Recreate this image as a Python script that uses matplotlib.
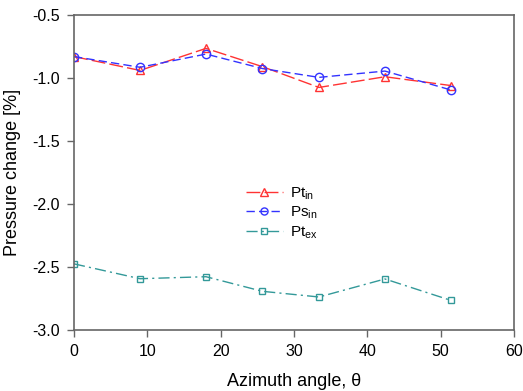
import matplotlib
matplotlib.use("Agg")
import matplotlib.pyplot as plt

plt.rcParams['font.family'] = ['Liberation Sans', 'DejaVu Sans']

# Azimuth angles (deg) and pressure change (%) for each probe
theta = [0, 9, 18, 25.7, 33.4, 42.4, 51.4]
pt_in = [-0.83, -0.94, -0.765, -0.91, -1.075, -0.99, -1.06]
ps_in = [-0.83, -0.915, -0.81, -0.925, -0.995, -0.945, -1.095]
pt_ex = [-2.475, -2.593, -2.577, -2.693, -2.738, -2.595, -2.765]

xticks = [0, 10, 20, 30, 40, 50, 60]
yticks = [-0.5, -1.0, -1.5, -2.0, -2.5, -3.0]

fig = plt.figure(figsize=(5.23, 3.91), dpi=100)
ax = fig.add_axes([74/523, 1 - 330/391, (514-74)/523, (330-15)/391])

ax.plot(theta, pt_in, color='#ff3333', linestyle=(0, (10, 3)), linewidth=1.0,
        marker='^', markersize=6, markerfacecolor='none', markeredgecolor='#ff3333',
        label='Pt$_{\\mathregular{in}}$')
ax.plot(theta, ps_in, color='#3333ff', linestyle=(0, (6, 3)), linewidth=1.0,
        marker='o', markersize=6, markerfacecolor='none', markeredgecolor='#3333ff',
        label='Ps$_{\\mathregular{in}}$')
ax.plot(theta, pt_ex, color='#339999', linestyle=(0, (8, 3, 1.5, 3)), linewidth=1.0,
        marker='s', markersize=5, markerfacecolor='none', markeredgecolor='#339999',
        label='Pt$_{\\mathregular{ex}}$')

ax.set_xlim(0, 60)
ax.set_ylim(-3.0, -0.5)
ax.set_xticks(xticks)
ax.set_yticks(yticks)
ax.set_yticklabels([f"{v:.1f}" for v in yticks])

for s in ax.spines.values():
    s.set_color('#666666')
    s.set_linewidth(1.2)
ax.tick_params(direction='out', length=5, width=1, color='#666666',
               labelsize=11.5, top=False, right=False, pad=5)

ax.set_xlabel('Azimuth angle, θ', fontsize=13, labelpad=10)
ax.set_ylabel('Pressure change [%]', fontsize=13, labelpad=8)

ax.legend(loc='upper left', bbox_to_anchor=(246/523, 1 - 185/391),
          bbox_transform=fig.transFigure, frameon=False, borderpad=0,
          borderaxespad=0, fontsize=11, handlelength=2.4, labelspacing=0.2,
          handletextpad=0.5, markerscale=0.85)

fig.savefig('out.png', dpi=100)
